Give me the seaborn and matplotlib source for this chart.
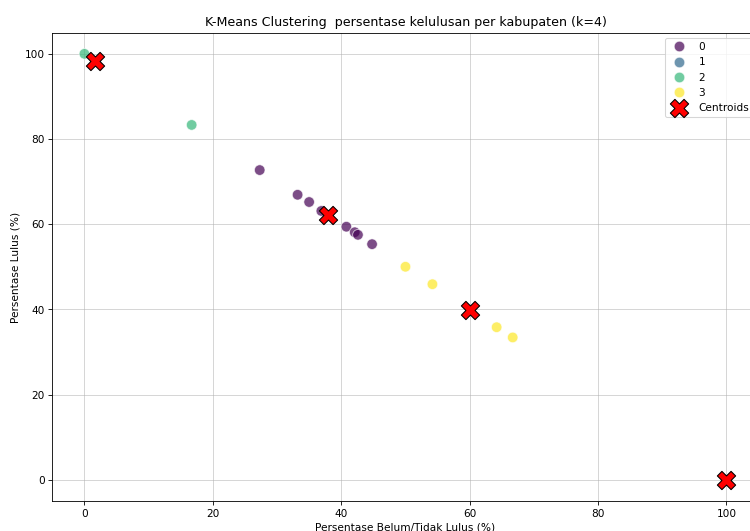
import numpy as np
import pandas as pd
import matplotlib
matplotlib.use("Agg")
import matplotlib.pyplot as plt
import seaborn as sns

# data
belum_lulus = [27.3, 33.2, 35.0, 36.9, 40.8, 42.1, 42.6, 44.8,   # cluster 0
               100.0,                                           # cluster 1
               0.0, 16.7,                                       # cluster 2
               50.0, 54.2, 64.2, 66.7]                          # cluster 3
lulus = [72.7, 66.9, 65.2, 63.1, 59.4, 58.1, 57.5, 55.3,
         0.0,
         100.0, 83.3,
         50.0, 45.9, 35.8, 33.4]
cluster = [0, 0, 0, 0, 0, 0, 0, 0,
           1,
           2, 2,
           3, 3, 3, 3]

centroid_x = [37.9, 100.0, 1.7, 60.0]
centroid_y = [62.1, 0.0, 98.3, 39.9]

df = pd.DataFrame({'belum': belum_lulus, 'lulus': lulus, 'Cluster': cluster})

# original looks like a 12x8 figure shrunk to ~76 dpi, then cropped on the right/bottom
DPI = 76
W, H = 750, 531
fig = plt.figure(figsize=((W + 0.2) / DPI, (H + 0.2) / DPI), dpi=DPI)
ax = fig.add_axes([52.3 / W, 1 - 501 / H, (758.4 - 52.3) / W, (501 - 32.7) / H])

sns.scatterplot(data=df, x='belum', y='lulus', hue='Cluster', palette='viridis',
                s=100, alpha=0.7, ax=ax)
cent = ax.scatter(centroid_x, centroid_y, c='red', marker='X', s=300,
                  edgecolor='black', linewidth=1, label='Centroids', zorder=3)

leg = ax.get_legend()
handles = list(leg.legend_handles)
labels = [t.get_text() for t in leg.get_texts()]
handles.append(cent)
labels.append('Centroids')
ax.legend(handles, labels, loc='upper right')

ax.set_title('K-Means Clustering  persentase kelulusan per kabupaten (k=4)')
ax.set_xlabel('Persentase Belum/Tidak Lulus (%)')
ax.set_ylabel('Persentase Lulus (%)')
ax.grid(True, alpha=0.6)
ax.set_axisbelow(True)
# right edge lies outside the cropped screenshot
ax.spines['right'].set_visible(False)

fig.savefig('out.png', dpi=DPI)
